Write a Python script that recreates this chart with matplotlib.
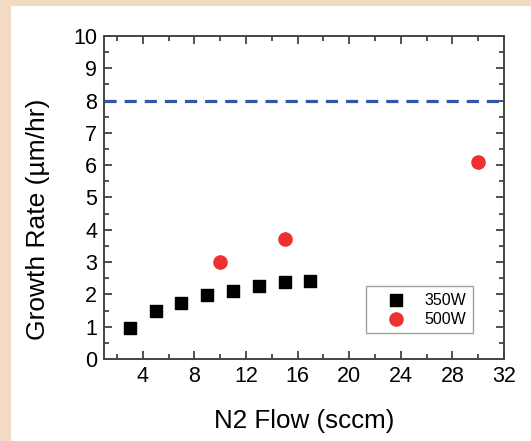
import numpy as np
import matplotlib.pyplot as plt
from matplotlib.patches import Rectangle
from matplotlib.ticker import MultipleLocator

plt.rcParams['font.family'] = ['Liberation Sans', 'DejaVu Sans']

# data
flow_350 = [3, 5, 7, 9, 11, 13, 15, 17]
rate_350 = [0.95, 1.5, 1.72, 1.97, 2.12, 2.27, 2.38, 2.42]
flow_500 = [10, 15, 30]
rate_500 = [3.0, 3.7, 6.1]
target_rate = 8.0

fig = plt.figure(figsize=(5.31, 4.41), dpi=100)
fig.patch.set_facecolor('#F3DBC3')
# white panel
fig.patches.append(Rectangle((11 / 531, 0), 1, 1 - 6 / 441, transform=fig.transFigure,
                             facecolor='white', edgecolor='none', zorder=-1))

ax = fig.add_axes([104 / 531, 1 - 359 / 441, 400 / 531, 323 / 441])
ax.set_zorder(2)
ax.set_facecolor('white')

ax.axhline(target_rate, color='#3355AA', lw=2.3, dashes=(3.8, 2.5))
ax.scatter(flow_350, rate_350, marker='s', s=75, color='black', label='350W', zorder=3)
ax.scatter(flow_500, rate_500, marker='o', s=90, color='#EE3030', label='500W', zorder=3)

ax.set_xlim(1, 32)
ax.set_ylim(0, 10)
ax.xaxis.set_major_locator(MultipleLocator(4))
ax.xaxis.set_minor_locator(MultipleLocator(2))
ax.yaxis.set_major_locator(MultipleLocator(1))
ax.yaxis.set_minor_locator(MultipleLocator(0.5))
ax.set_xticks([4, 8, 12, 16, 20, 24, 28, 32])
ax.tick_params(which='both', direction='in', top=True, right=True, width=1.2, colors='#333333',
               labelcolor='black')
ax.tick_params(which='major', length=6, labelsize=15.5, pad=5)
ax.tick_params(which='minor', length=3.5)
for s in ax.spines.values():
    s.set_linewidth(1.4)
    s.set_color('#444444')

ax.set_xlabel('N2 Flow (sccm)', fontsize=18.7, labelpad=16)
ax.set_ylabel('Growth Rate (µm/hr)', fontsize=19)
ax.yaxis.set_label_coords(-0.135, 0.433)

leg = ax.legend(loc='lower right', bbox_to_anchor=(0.9225, 0.0805), borderaxespad=0,
                fontsize=11.5, frameon=True, fancybox=False, edgecolor='#888888',
                borderpad=0.4, handlelength=3.0, handletextpad=0.3, labelspacing=0.25,
                markerscale=1.0)
leg.get_frame().set_linewidth(1.0)

fig.savefig('out.png', dpi=100, facecolor=fig.get_facecolor())
